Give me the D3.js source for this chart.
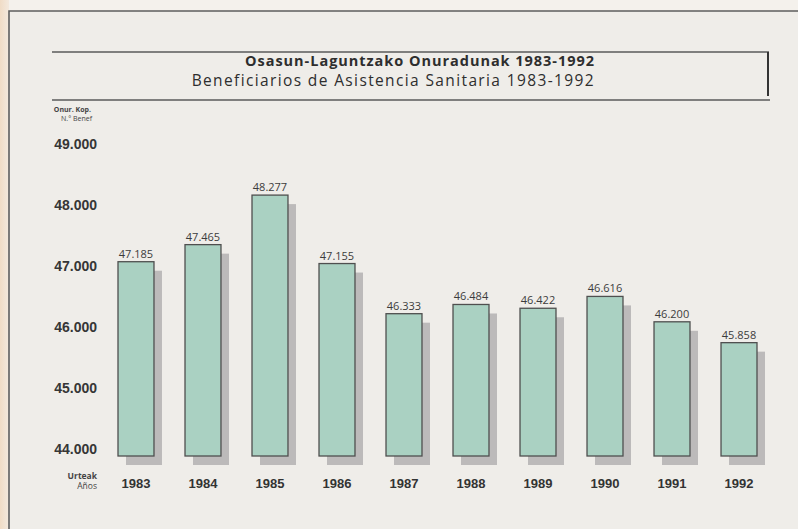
<!DOCTYPE html>
<html>
<head>
<meta charset="utf-8">
<script src="https://cdn.jsdelivr.net/npm/d3@7"></script>
<style>
  body { margin: 0; background: #efede8; }
  svg { display: block; font-family: "Open Sans", "DejaVu Sans", sans-serif; }
</style>
</head>
<body>
<div class="stage"></div>
<script>
var years = ["1983", "1984", "1985", "1986", "1987", "1988", "1989", "1990", "1991", "1992"];
var values = [47185, 47465, 48277, 47155, 46333, 46484, 46422, 46616, 46200, 45858];
var yTicks = [44000, 45000, 46000, 47000, 48000, 49000];
var title = "Osasun-Laguntzako Onuradunak 1983-1992";
var subtitle = "Beneficiarios de Asistencia Sanitaria 1983-1992";

var W = 798, H = 529;
var fmt = d3.formatLocale({ decimal: ",", thousands: ".", grouping: [3] }).format(",d");

var svg = d3.select(".stage").append("svg")
  .attr("width", W)
  .attr("height", H);

// paper
svg.append("rect").attr("width", W).attr("height", H).attr("fill", "#efede9");
var grad = svg.append("defs").append("linearGradient").attr("id", "edge")
grad.append("stop").attr("offset", "0%").attr("stop-color", "#f0dcc6")
grad.append("stop").attr("offset", "100%").attr("stop-color", "#f3e9de")
svg.append("rect").attr("x", 0).attr("y", 0).attr("width", 9).attr("height", H).attr("fill", "url(#edge)");
svg.append("rect").attr("x", 9).attr("y", 0).attr("width", W - 9).attr("height", 11).attr("fill", "#f4f1ec");

// outer frame
svg.append("path")
  .attr("d", "M9," + H + "V11H" + W)
  .attr("fill", "none")
  .attr("stroke", "#5e5e5e")
  .attr("stroke-width", 1.6);

// title box
svg.append("line").attr("x1", 52).attr("x2", 769).attr("y1", 52).attr("y2", 52)
  .attr("stroke", "#5a5a5a").attr("stroke-width", 1.3);
svg.append("line").attr("x1", 52).attr("x2", 770).attr("y1", 100).attr("y2", 100)
  .attr("stroke", "#5a5a5a").attr("stroke-width", 1.3);
svg.append("line").attr("x1", 768).attr("x2", 768).attr("y1", 52).attr("y2", 96)
  .attr("stroke", "#333").attr("stroke-width", 2);

// stretch a line of text to the width it has in the print
function spread(sel, target) {
  var w = sel.node().getComputedTextLength();
  var n = sel.text().length;
  sel.attr("letter-spacing", (target - w) / (n - 1));
}

var t1 = svg.append("text")
  .attr("x", 595).attr("y", 66)
  .attr("text-anchor", "end")
  .attr("font-size", 14.5)
  .attr("font-weight", "bold")
  .attr("fill", "#2e2e2e")
  .text(title);
spread(t1, 349);

var t2 = svg.append("text")
  .attr("x", 595).attr("y", 86)
  .attr("text-anchor", "end")
  .attr("font-size", 15.5)
  .attr("fill", "#2e2e2e")
  .text(subtitle);
spread(t2, 402);

// scales
var x = d3.scaleBand()
  .domain(years)
  .range([84.5, 790.5])
  .paddingInner(0.463)
  .paddingOuter(0.5);

var y = d3.scaleLinear()
  .domain([44000, 49000])
  .range([456, 151]);

// y axis labels
var yAxis = svg.append("g")
  .attr("transform", "translate(97,0)")
  .call(d3.axisLeft(y).tickValues(yTicks).tickFormat(fmt).tickSize(0).tickPadding(0));
yAxis.select(".domain").remove();
yAxis.selectAll("text")
  .attr("dy", "-0.2em")
  .attr("font-family", null)
  .attr("font-size", 14)
  .attr("font-weight", "bold")
  .attr("fill", "#363636");

svg.append("text").attr("x", 91).attr("y", 112).attr("text-anchor", "end")
  .attr("font-size", 7).attr("font-weight", "bold").attr("fill", "#444").text("Onur. Kop.");
svg.append("text").attr("x", 92).attr("y", 121).attr("text-anchor", "end")
  .attr("font-size", 7).attr("fill", "#444").text("N.° Benef");

// shadows
var bars = svg.append("g");
bars.selectAll(".shadow")
  .data(values)
  .enter().append("rect")
  .attr("class", "shadow")
  .attr("x", function(d, i){ return x(years[i]) + 8 })
  .attr("y", function(d){ return y(d) + 9 })
  .attr("width", x.bandwidth())
  .attr("height", function(d){ return y(44000) - y(d) })
  .attr("fill", "#bcbaba");

bars.selectAll(".bar")
  .data(values)
  .enter().append("rect")
  .attr("class", "bar")
  .attr("x", function(d, i){ return x(years[i]) })
  .attr("y", function(d){ return y(d) })
  .attr("width", x.bandwidth())
  .attr("height", function(d){ return y(44000) - y(d) })
  .attr("fill", "#aad1c2")
  .attr("stroke", "#4f4f4f")
  .attr("stroke-width", 1.3);

bars.selectAll(".val")
  .data(values)
  .enter().append("text")
  .attr("class", "val")
  .attr("x", function(d, i){ return x(years[i]) + x.bandwidth()/2 })
  .attr("y", function(d){ return y(d) - 4 })
  .attr("text-anchor", "middle")
  .attr("font-size", 11)
  .attr("fill", "#3c3c3c")
  .text(fmt);

// x axis labels
var xAxis = svg.append("g")
  .attr("transform", "translate(0,479)")
  .call(d3.axisBottom(x).tickSize(0).tickPadding(0));
xAxis.select(".domain").remove();
xAxis.selectAll("text")
  .attr("font-family", null)
  .attr("font-size", 13)
  .attr("font-weight", "bold")
  .attr("fill", "#333");

svg.append("text").attr("x", 97).attr("y", 479).attr("text-anchor", "end")
  .attr("font-size", 8.5).attr("font-weight", "bold").attr("fill", "#444").text("Urteak");
svg.append("text").attr("x", 97).attr("y", 489).attr("text-anchor", "end")
  .attr("font-size", 8.5).attr("fill", "#444").text("Años");
</script>
</body>
</html>
